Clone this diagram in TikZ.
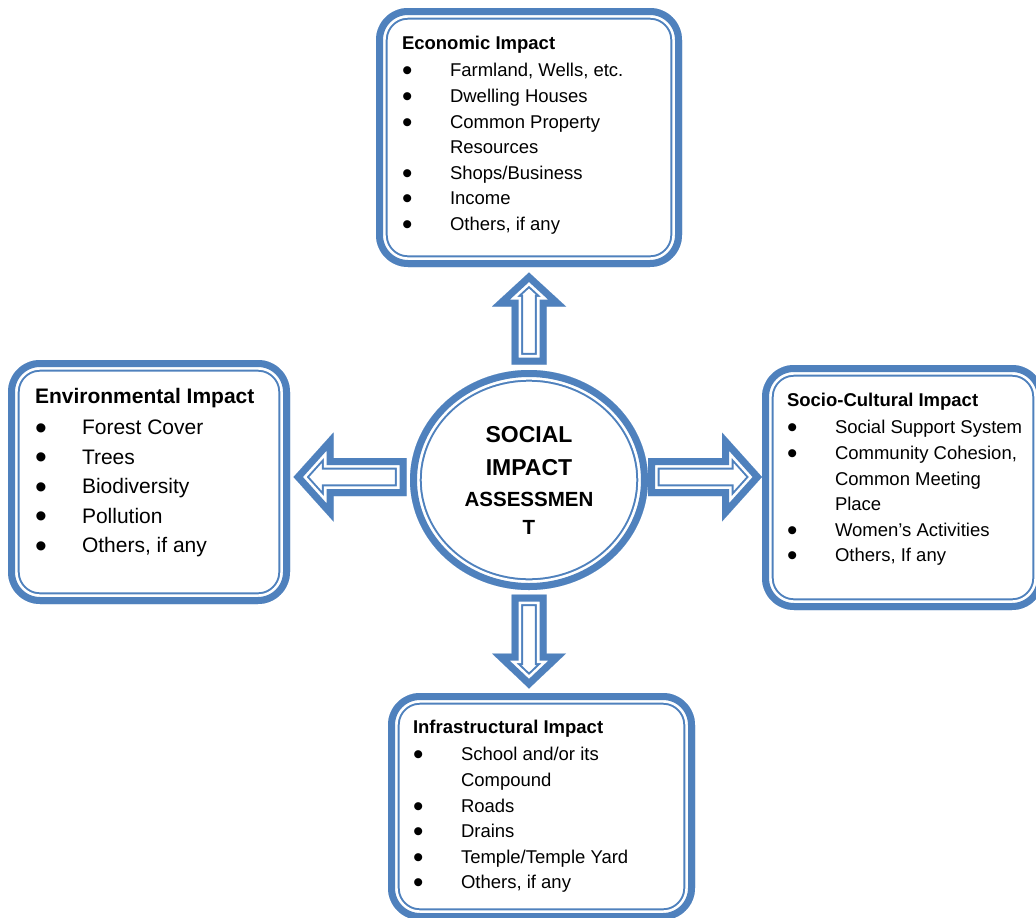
\documentclass[tikz,border=0pt]{standalone}
\usepackage{fontspec}
\setmainfont{Liberation Sans}
\usetikzlibrary{calc,shapes.geometric}
\definecolor{accentblue}{RGB}{79,129,189}
\newcommand{\listbul}{\smash{\raisebox{-0.22em}{\scalebox{1.6}{\textbullet}}}}

\begin{document}
\begin{tikzpicture}[x=1pt, y=1pt,
    impbox/.style={rectangle, rounded corners=32pt, inner sep=0pt,
        path picture={
          \foreach \lw/\col in {23.4/accentblue, 19.4/white, 14/accentblue}
            \draw[line width=\lw pt, draw=\col, rounded corners=32pt]
              (path picture bounding box.south west) rectangle
              (path picture bounding box.north east);}},
    sia/.style={ellipse, inner sep=0pt, minimum width=238pt,
        minimum height=220pt, align=center,
        font=\fontsize{23}{33}\selectfont\bfseries,
        path picture={
          \foreach \lw/\col in {23.4/accentblue, 19.4/white, 14/accentblue}
            \draw[line width=\lw pt, draw=\col]
              (path picture bounding box.center)
              ellipse [x radius=119pt, y radius=110pt];}},
    itemlist/.style={inner sep=0pt, anchor=base west,
        font=\fontsize{18.5}{25.6}\selectfont},
    pics/blockarr/.style n args={4}{code={
        \begin{scope}
          \clip ({-#1/2},{#4}) -- ({#1/2-#2},{#4}) -- ({#1/2-#2},{#3})
            -- ({#1/2},0) -- ({#1/2-#2},{-#3}) -- ({#1/2-#2},{-#4})
            -- ({-#1/2},{-#4}) -- cycle;
          \foreach \lw/\col in {23.4/accentblue, 19.4/white, 14/accentblue}
            \draw[line width=\lw pt, draw=\col]
              ({-#1/2},{#4}) -- ({#1/2-#2},{#4}) -- ({#1/2-#2},{#3})
              -- ({#1/2},0) -- ({#1/2-#2},{-#3}) -- ({#1/2-#2},{-#4})
              -- ({-#1/2},{-#4}) -- cycle;
        \end{scope}}}]

    \useasboundingbox (0,0) rectangle (1036,-918);

    % the four impact boxes and the centre
    \node[impbox, minimum width=306pt, minimum height=259pt] (econ) at (529,-137.5) {};
    \node[impbox, minimum width=282pt, minimum height=244pt] (env) at (149,-482) {};
    \node[impbox, minimum width=282pt, minimum height=245pt] (socio) at (903,-487.5) {};
    \node[impbox, minimum width=307pt, minimum height=227pt] (infra) at (541.5,-806.5) {};
    \node[sia] (sia) at (529,-480) {SOCIAL\\IMPACT\\[-2pt]
        {\fontsize{20.5}{31}\selectfont ASSESSMEN}\\[-5pt]
        {\fontsize{20.5}{31}\selectfont T}};

    % block arrows
    \pic[rotate=90] at ($(sia.north)!0.5!(econ.south)$) {blockarr={92}{34}{37}{17.5}};
    \pic[rotate=-90] at ($(sia.south)!0.5!(sia.south|-infra.north)$) {blockarr={94}{35}{37}{17.5}};
    \pic[rotate=180] at ($(sia.west)!0.5!(sia.west-|env.east) + (0,3)$) {blockarr={113}{40}{44.5}{19}};
    \pic at ($(sia.east)!0.5!(sia.east-|socio.west) + (0,3)$) {blockarr={114}{40}{44.5}{19}};

    % box texts
    \node[itemlist] (econlist) at ([shift={(26,-42)}]econ.north west) {%
      \begin{tabular}[t]{@{}p{48pt}@{}l@{}}
        \multicolumn{2}{@{}l@{}}{\textbf{Economic Impact}}\\[1.4pt]
        \listbul & Farmland, Wells, etc.\\
        \listbul & Dwelling Houses\\
        \listbul & Common Property\\
                 & Resources\\
        \listbul & Shops/Business\\
        \listbul & Income\\
        \listbul & Others, if any
      \end{tabular}};
    \node[itemlist, font=\fontsize{21}{29.5}\selectfont] (envlist)
        at ([shift={(27,-44)}]env.north west) {%
      \begin{tabular}[t]{@{}p{47pt}@{}l@{}}
        \multicolumn{2}{@{}l@{}}{\textbf{Environmental Impact}}\\[1.4pt]
        \listbul & Forest Cover\\
        \listbul & Trees\\
        \listbul & Biodiversity\\
        \listbul & Pollution\\
        \listbul & Others, if any
      \end{tabular}};
    \node[itemlist] (sociolist) at ([shift={(25,-42)}]socio.north west) {%
      \begin{tabular}[t]{@{}p{48pt}@{}l@{}}
        \multicolumn{2}{@{}l@{}}{\textbf{Socio-Cultural Impact}}\\[1.4pt]
        \listbul & Social Support System\\
        \listbul & Community Cohesion,\\
                 & Common Meeting\\
                 & Place\\
        \listbul & Women’s Activities\\
        \listbul & Others, If any
      \end{tabular}};
    \node[itemlist] (infralist) at ([shift={(25,-41)}]infra.north west) {%
      \begin{tabular}[t]{@{}p{48pt}@{}l@{}}
        \multicolumn{2}{@{}l@{}}{\textbf{Infrastructural Impact}}\\[1.4pt]
        \listbul & School and/or its\\
                 & Compound\\
        \listbul & Roads\\
        \listbul & Drains\\
        \listbul & Temple/Temple Yard\\
        \listbul & Others, if any
      \end{tabular}};
\end{tikzpicture}
\end{document}
